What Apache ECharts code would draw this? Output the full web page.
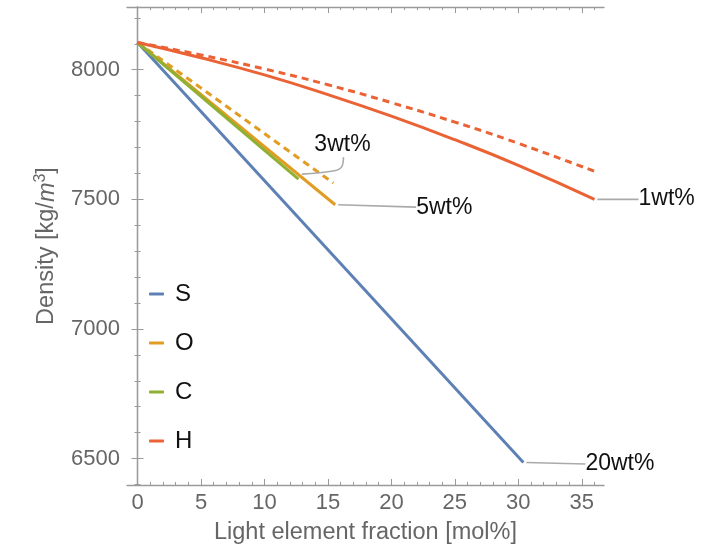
<!DOCTYPE html>
<html>
<head>
<meta charset="utf-8">
<script src="https://cdn.jsdelivr.net/npm/echarts@6/dist/echarts.min.js"></script>
<style>
  html, body { margin: 0; padding: 0; background: #fff; }
  #chart { width: 716px; height: 551px; }
</style>
</head>
<body>
<div id="chart"></div>
<script>
// density of Fe alloy vs light element fraction
const xTicks = [0, 5, 10, 15, 20, 25, 30, 35]
const yTicks = [6500, 7000, 7500, 8000]

const sX = [0, 30.4]
const sY = [8105, 6485]
const oX = [0, 15.57]
const oY = [8105, 7479]
const oDashX = [0, 15.43]
const oDashY = [8105, 7563]
const cX = [0, 12.68]
const cY = [8105, 7578]
const hX = [0, 5, 10, 15, 20, 25, 30, 36]
const hY = [8105, 8046, 7980, 7904, 7821, 7730, 7631, 7500]
const hDashY = [8105, 8057, 8003, 7942, 7873, 7798, 7716, 7608]

const legendNames = ['S', 'O', 'C', 'H']
const calloutText = ['3wt%', '5wt%', '1wt%', '20wt%']

const FONT = '"Liberation Sans", Arial, sans-serif'
const GRAY = '#666'
const FRAME = '#9a9a9a'
const colors = { S: '#5e81b5', O: '#e19c24', C: '#8fb032', H: '#eb6235' }

const X_MIN = -0.83, X_MAX = 36.75
const Y_MIN = 6398, Y_MAX = 8242

function zip(xs, ys) {
  return xs.map((x, i) => [x, ys[i]])
}

function minorOf(major, from, to, step) {
  const out = []
  for (let v = from; v <= to + 1e-9; v += step) {
    const r = Math.round(v * 100) / 100
    if (major.indexOf(r) < 0) out.push(r)
  }
  return out
}

const xMinor = minorOf(xTicks, 0, 36, 1)
const yMinor = minorOf(yTicks, 6400, 8200, 100)

function frameAxis(pos, major, withLine, withLabel, min, max) {
  return {
    type: 'value', position: pos, min: min, max: max,
    splitLine: { show: false },
    axisLine: { show: withLine, lineStyle: { color: FRAME, width: 1.3 } },
    axisTick: { show: true, inside: true, customValues: major.vals, length: major.len,
      lineStyle: { color: FRAME, width: 1 } },
    axisLabel: withLabel ? {
      show: true, customValues: major.vals, fontSize: 22, color: GRAY, fontFamily: FONT, margin: 7,
      formatter: v => String(v)
    } : { show: false }
  }
}

const xAxes = [
  frameAxis('bottom', { vals: xTicks, len: 6 }, true, true, X_MIN, X_MAX),
  frameAxis('bottom', { vals: xMinor, len: 3 }, false, false, X_MIN, X_MAX),
  frameAxis('top', { vals: xTicks, len: 6 }, true, false, X_MIN, X_MAX),
  frameAxis('top', { vals: xMinor, len: 3 }, false, false, X_MIN, X_MAX)
]
Object.assign(xAxes[0], {
  name: 'Light element fraction [mol%]', nameLocation: 'middle', nameGap: 36,
  nameTextStyle: { fontSize: 23.5, color: GRAY, fontFamily: FONT }
})

const yAxes = [
  frameAxis('left', { vals: yTicks, len: 6 }, true, true, Y_MIN, Y_MAX),
  frameAxis('left', { vals: yMinor, len: 3 }, false, false, Y_MIN, Y_MAX),
  frameAxis('right', { vals: yTicks, len: 6 }, true, false, Y_MIN, Y_MAX),
  frameAxis('right', { vals: yMinor, len: 3 }, false, false, Y_MIN, Y_MAX)
]
Object.assign(yAxes[0], {
  name: 'Density [kg/{m|m}{s|3}]', nameLocation: 'middle', nameGap: 66, nameRotate: 90,
  nameTextStyle: {
    fontSize: 23.5, color: GRAY, fontFamily: FONT,
    rich: {
      m: { fontSize: 23.5, color: GRAY, fontFamily: FONT, fontStyle: 'italic' },
      s: { fontSize: 16, color: GRAY, fontFamily: FONT, padding: [0, 0, 12, 0] }
    }
  }
})

function lineSeries(name, data, color, dashed) {
  return {
    name: name, type: 'line', data: data, smooth: data.length > 2,
    showSymbol: false, symbol: 'none', animation: false,
    lineStyle: { color: color, width: 3, type: dashed ? [7, 5] : 'solid', cap: 'butt' },
    itemStyle: { color: color }
  }
}

const series = [
  lineSeries('S', zip(sX, sY), colors.S),
  lineSeries('O', zip(oX, oY), colors.O),
  lineSeries('O dashed', zip(oDashX, oDashY), colors.O, true),
  lineSeries('C', zip(cX, cY), colors.C),
  lineSeries('H', zip(hX, hY), colors.H),
  lineSeries('H dashed', zip(hX, hDashY), colors.H, true)
]

const chart = echarts.init(document.getElementById('chart'), null, { renderer: 'canvas' })
chart.setOption({
  backgroundColor: '#fff',
  animation: false,
  grid: { left: 127, right: 112, top: 7, bottom: 66 },
  xAxis: xAxes,
  yAxis: yAxes,
  legend: {
    data: legendNames, orient: 'vertical', left: 144, top: 276,
    icon: 'roundRect', itemWidth: 15, itemHeight: 3, itemGap: 23,
    textStyle: { fontSize: 24, color: '#111', fontFamily: FONT, lineHeight: 26, padding: [0, 0, 0, 6] }
  },
  series: series
})

// callouts: series index of the endpoint, guide path and label offsets in px
const callouts = [
  { seriesIndex: 3, pt: cX.length - 1, path: [[3.4, -5], [36, -8.4], [43, -12], [45, -22]], label: [44, -34], align: 'center' },
  { seriesIndex: 1, pt: oX.length - 1, path: [[3, 0], [81, 2.3]], label: [81, 3], align: 'left' },
  { seriesIndex: 4, pt: hX.length - 1, path: [[3, 0], [44, 0]], label: [44, -1], align: 'left' },
  { seriesIndex: 0, pt: sX.length - 1, path: [[3, 0], [62, 1.6]], label: [62, 1], align: 'left' }
]

const graphic = []
callouts.forEach((c, i) => {
  const p = chart.convertToPixel({ seriesIndex: c.seriesIndex }, series[c.seriesIndex].data[c.pt])
  graphic.push({
    type: 'polyline', silent: true, z: 10,
    shape: { points: c.path.map(d => [p[0] + d[0], p[1] + d[1]]), smooth: c.path.length > 2 ? 0.4 : 0 },
    style: { stroke: '#aaa', lineWidth: 1.6, fill: null }
  })
  graphic.push({
    type: 'text', silent: true, z: 11,
    x: p[0] + c.label[0], y: p[1] + c.label[1],
    style: { text: calloutText[i], fontSize: 23, fontFamily: FONT, fill: '#111', align: c.align, verticalAlign: 'middle' }
  })
})
chart.setOption({ graphic: graphic })
</script>
</body>
</html>
